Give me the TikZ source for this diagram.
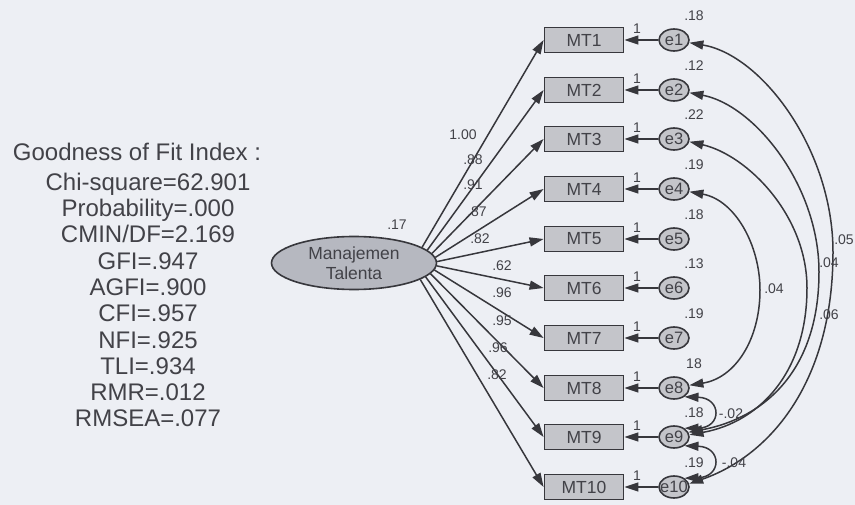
\documentclass[tikz,border=0pt]{standalone}
\usepackage{fontspec}
\setmainfont{Liberation Sans}
\usetikzlibrary{arrows.meta,shapes.geometric}
\definecolor{bgpaper}{RGB}{237,239,244}
\definecolor{inkgray}{RGB}{55,55,60}
\definecolor{txtgray}{RGB}{66,66,72}
\definecolor{boxgray}{RGB}{196,197,202}
\definecolor{latgray}{RGB}{182,184,192}
\begin{document}
\begin{tikzpicture}[x=1pt,y=-1pt,
obs/.style={draw=inkgray,line width=1.8pt,fill=boxgray,minimum width=79pt,minimum height=25pt,inner sep=0pt,font=\fontsize{17.5}{17.5}\selectfont,text=txtgray},
err/.style={ellipse,draw=inkgray,line width=1.6pt,fill=boxgray,minimum width=30pt,minimum height=22pt,inner sep=0pt,font=\fontsize{16.5}{16.5}\selectfont,text=txtgray},
lat/.style={ellipse,draw=inkgray,line width=1.6pt,fill=latgray,minimum width=165pt,minimum height=53pt,inner sep=0pt,align=center,font=\fontsize{17.5}{20.5}\selectfont,text=txtgray},
lbl/.style={font=\fontsize{14}{14}\selectfont,text=txtgray,inner sep=1pt},
gof/.style={font=\fontsize{24}{26.3}\selectfont,text=txtgray,align=center,inner sep=0pt},
load/.style={draw=inkgray,line width=1.5pt,-{Triangle[length=14pt,width=9pt]}},
cov/.style={draw=inkgray,line width=1.5pt,{Triangle[length=14pt,width=9pt]}-{Triangle[length=14pt,width=9pt]}}
]
\useasboundingbox[fill=bgpaper] (0,0) rectangle (855,505);
\node[gof] (title) at (137,152) {Goodness of Fit Index :};
\node[gof] (stats) at (148,300) {Chi-square=62.901\\Probability=.000\\CMIN/DF=2.169\\GFI=.947\\AGFI=.900\\CFI=.957\\NFI=.925\\TLI=.934\\RMR=.012\\RMSEA=.077};
\node[lat] (mt) at (354,263) {Manajemen\\Talenta};
\node[lbl] (vmt) at (397,225) {.17};
\node[obs] (mt1) at (584,40) {MT1};
\node[obs] (mt2) at (584,90) {MT2};
\node[obs] (mt3) at (584,139) {MT3};
\node[obs] (mt4) at (584,189) {MT4};
\node[obs] (mt5) at (584,239) {MT5};
\node[obs] (mt6) at (584,288) {MT6};
\node[obs] (mt7) at (584,338) {MT7};
\node[obs] (mt8) at (584,388) {MT8};
\node[obs] (mt9) at (584,437) {MT9};
\node[obs] (mt10) at (584,487) {MT10};
\node[err] (e1) at (674,40) {e1};
\node[err] (e2) at (674,90) {e2};
\node[err] (e3) at (674,139) {e3};
\node[err] (e4) at (674,189) {e4};
\node[err] (e5) at (674,239) {e5};
\node[err] (e6) at (674,288) {e6};
\node[err] (e7) at (674,338) {e7};
\node[err] (e8) at (674,388) {e8};
\node[err] (e9) at (674,437) {e9};
\node[err] (e10) at (674,487) {\makebox[16pt]{e10}};
\draw[load] (mt.13) -- (mt1.west);
\draw[load] (mt.10) -- (mt2.west);
\draw[load] (mt.7) -- (mt3.west);
\draw[load] (mt.4) -- (mt4.west);
\draw[load] (mt.1) -- (mt5.west);
\draw[load] (mt.-2) -- (mt6.west);
\draw[load] (mt.-5) -- (mt7.west);
\draw[load] (mt.-8) -- (mt8.west);
\draw[load] (mt.-11) -- (mt9.west);
\draw[load] (mt.-14) -- (mt10.west);
\node[lbl] at (463,135) {1.00};
\node[lbl] at (473,160) {.88};
\node[lbl] at (473,185) {.91};
\node[lbl] at (477,212) {.87};
\node[lbl] at (480,239) {.82};
\node[lbl] at (502,266) {.62};
\node[lbl] at (502,293) {.96};
\node[lbl] at (502,321) {.95};
\node[lbl] at (498,348) {.96};
\node[lbl] at (497,375) {.82};
\draw[load] (e1) -- (mt1);
\draw[load] (e2) -- (mt2);
\draw[load] (e3) -- (mt3);
\draw[load] (e4) -- (mt4);
\draw[load] (e5) -- (mt5);
\draw[load] (e6) -- (mt6);
\draw[load] (e7) -- (mt7);
\draw[load] (e8) -- (mt8);
\draw[load] (e9) -- (mt9);
\draw[load] (e10) -- (mt10);
\node[lbl] at (637,29) {1};
\node[lbl] at (637,79) {1};
\node[lbl] at (637,128) {1};
\node[lbl] at (637,178) {1};
\node[lbl] at (637,228) {1};
\node[lbl] at (637,277) {1};
\node[lbl] at (637,327) {1};
\node[lbl] at (637,377) {1};
\node[lbl] at (637,426) {1};
\node[lbl] at (637,476) {1};
\node[lbl] at (694,16) {.18};
\node[lbl] at (694,66) {.12};
\node[lbl] at (694,115) {.22};
\node[lbl] at (694,165) {.19};
\node[lbl] at (694,215) {.18};
\node[lbl] at (694,264) {.13};
\node[lbl] at (694,314) {.19};
\node[lbl] at (694,364) {18};
\node[lbl] at (694,413) {.18};
\node[lbl] at (694,463) {.19};
\draw[cov] (e1.-10) .. controls (762,55) and (833,150) .. (833,252) .. controls (833,380) and (772,455) .. (e10.12);
\draw[cov] (e2.-10) .. controls (754,105) and (819,185) .. (819,272) .. controls (819,370) and (765,418) .. (e9.18);
\draw[cov] (e3.-10) .. controls (747,155) and (807,215) .. (807,288) .. controls (807,372) and (760,422) .. (e9.8);
\draw[cov] (e4.-10) .. controls (735,200) and (760,245) .. (760,290) .. controls (760,340) and (735,378) .. (e8.10);
\draw[cov] (e8.-40) .. controls (722,398) and (722,428) .. (e9.40);
\draw[cov] (e9.-40) .. controls (722,447) and (722,477) .. (e10.40);
\node[lbl] at (844,240) {.05};
\node[lbl] at (829,263) {.04};
\node[lbl] at (829,315) {.06};
\node[lbl] at (774,289) {.04};
\node[lbl] at (731,414) {-.02};
\node[lbl] at (734,463) {-.04};
\end{tikzpicture}
\end{document}
